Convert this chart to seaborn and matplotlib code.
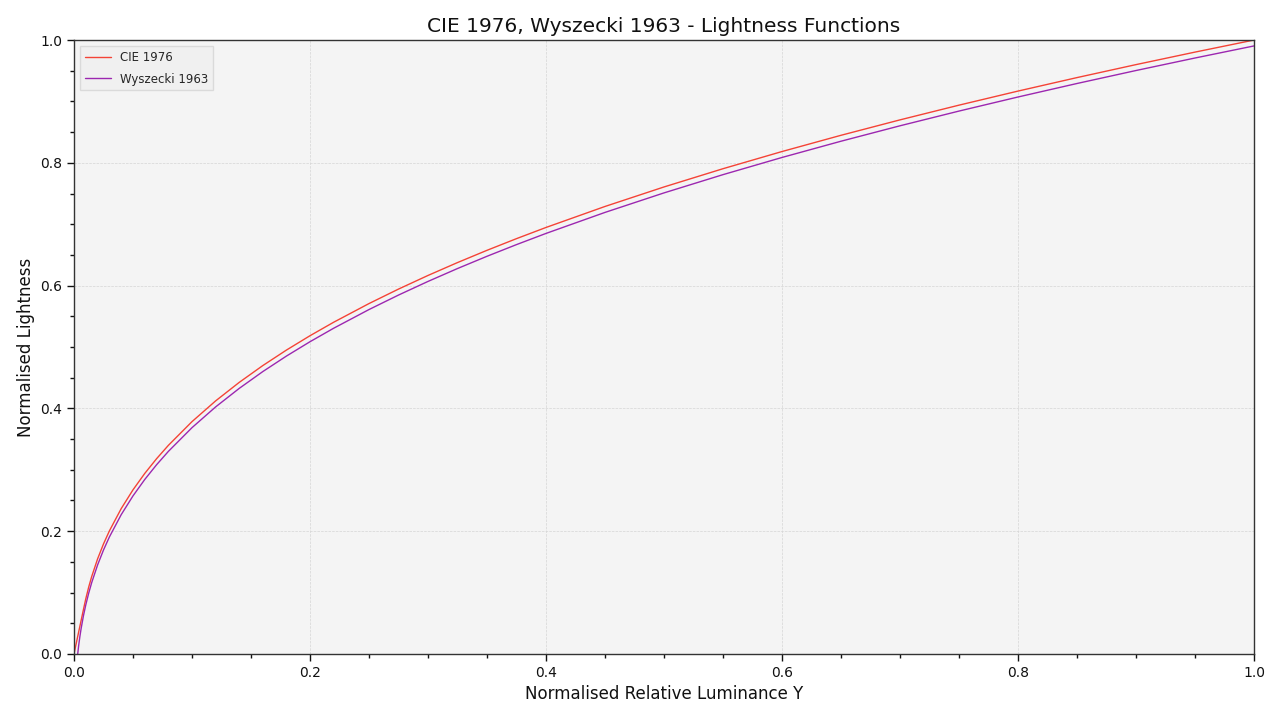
import matplotlib
matplotlib.use("Agg")
import matplotlib.pyplot as plt
from matplotlib.ticker import MultipleLocator
import seaborn as sns
import pandas as pd

# Values
luminance_y = [0.0, 0.001, 0.002, 0.003, 0.004, 0.005, 0.006, 0.008, 0.01, 0.0125,
               0.015, 0.02, 0.025, 0.03, 0.04, 0.05, 0.06, 0.07, 0.08, 0.1,
               0.12, 0.14, 0.16, 0.18, 0.2, 0.22, 0.25, 0.275, 0.3, 0.325,
               0.35, 0.375, 0.4, 0.45, 0.5, 0.55, 0.6, 0.65, 0.7, 0.75,
               0.8, 0.85, 0.9, 0.95, 1.0]
cie_1976 = [0.0, 0.00903, 0.01807, 0.0271, 0.03613, 0.04517, 0.0542, 0.07226, 0.08991, 0.10921,
            0.12608, 0.15487, 0.17918, 0.20044, 0.23672, 0.26734, 0.29413, 0.31807, 0.33983, 0.37843,
            0.41216, 0.44233, 0.46974, 0.49496, 0.51837, 0.54027, 0.57075, 0.59434, 0.61654, 0.63753,
            0.65749, 0.6765, 0.6947, 0.72892, 0.76069, 0.79041, 0.81838, 0.84484, 0.86996, 0.89393,
            0.91685, 0.93883, 0.95997, 0.98034, 1.0]
wyszecki_1963 = [-0.17, -0.05396, -0.0238, -0.00265, 0.0142, 0.02843, 0.04086, 0.06208, 0.08, 0.09931,
                 0.11618, 0.14498, 0.1693, 0.19056, 0.22686, 0.25749, 0.28429, 0.30824, 0.33, 0.36861,
                 0.40236, 0.43254, 0.45996, 0.48519, 0.5086, 0.53051, 0.56101, 0.5846, 0.60681, 0.62781,
                 0.64777, 0.66679, 0.685, 0.71923, 0.75101, 0.78074, 0.80872, 0.83518, 0.86032, 0.88429,
                 0.90722, 0.92921, 0.95035, 0.97073, 0.9904]

df = pd.DataFrame({
    "Y": luminance_y * 2,
    "L": cie_1976 + wyszecki_1963,
    "method": ["CIE 1976"] * len(luminance_y) + ["Wyszecki 1963"] * len(luminance_y),
})

sns.set_theme(style="ticks")
plt.rcParams["font.family"] = ["DejaVu Sans"]

fig = plt.figure(figsize=(12.8, 7.2), dpi=100)
ax = fig.add_axes([0.0578, 0.0917, 0.9219, 0.8527])
ax.set_facecolor("#F4F4F4")

sns.lineplot(data=df, x="Y", y="L", hue="method",
             palette={"CIE 1976": "#F44336", "Wyszecki 1963": "#9C27B0"},
             linewidth=1, ax=ax, sort=False)

ax.set_xlim(0, 1)
ax.set_ylim(0, 1)
ax.xaxis.set_major_locator(MultipleLocator(0.2))
ax.yaxis.set_major_locator(MultipleLocator(0.2))
ax.xaxis.set_minor_locator(MultipleLocator(0.05))
ax.yaxis.set_minor_locator(MultipleLocator(0.05))
ax.tick_params(which="major", length=5, width=1, colors="#111111", labelsize=10)
ax.tick_params(which="minor", length=3, width=1, colors="#111111")
ax.grid(which="major", linestyle="--", linewidth=0.5, color="#D5D5D5")
for s in ax.spines.values():
    s.set_color("#333333")
    s.set_linewidth(1)

ax.set_title("CIE 1976, Wyszecki 1963 - Lightness Functions", fontsize=14.5, color="#111111")
ax.set_xlabel("Normalised Relative Luminance Y", fontsize=12, color="#111111")
ax.set_ylabel("Normalised Lightness", fontsize=12, color="#111111")

leg = ax.legend(loc="upper left", fontsize=8.5, frameon=True, fancybox=False,
                handlelength=2.2, labelspacing=0.75)
leg.get_frame().set_facecolor("#EFEFEF")
leg.get_frame().set_edgecolor("#D5D5D5")

fig.savefig("out.png", dpi=100)
